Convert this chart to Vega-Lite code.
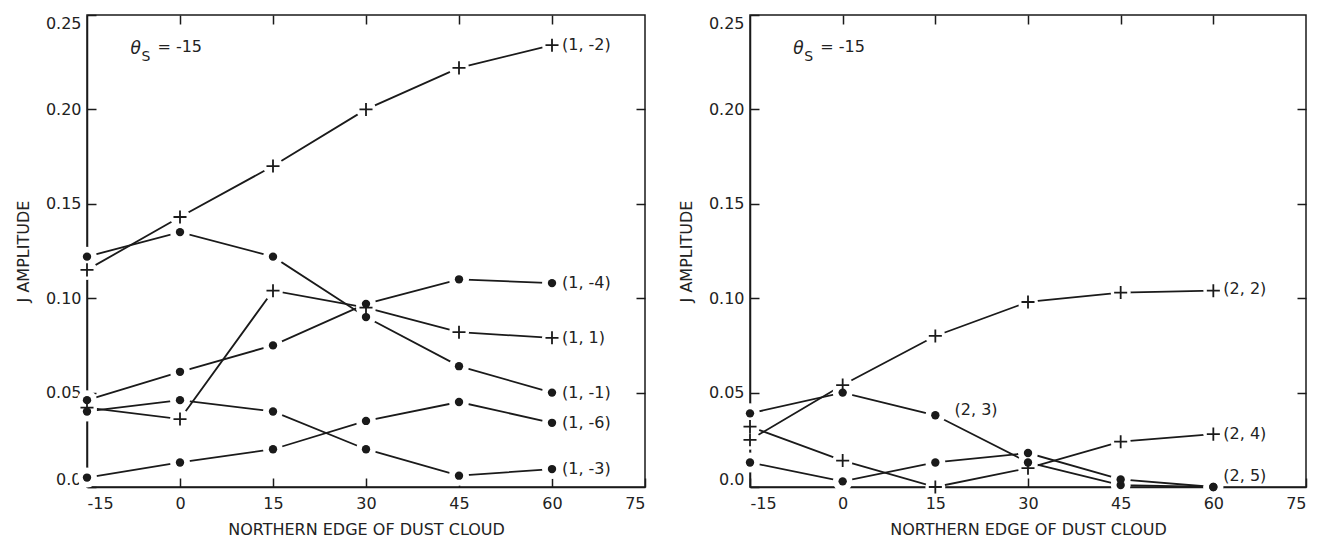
{
  "$schema": "https://vega.github.io/schema/vega-lite/v6.json",
  "padding": {"left": 14, "top": 13, "right": 5, "bottom": 3},
  "spacing": 30,
  "background": "white",
  "config": {
    "view": {"stroke": "#1a1a1a", "strokeWidth": 1.5},
    "font": "DejaVu Sans",
    "axis": {
      "labelFont": "DejaVu Sans", "titleFont": "DejaVu Sans",
      "labelFontSize": 16, "titleFontSize": 16, "titleFontWeight": "normal",
      "labelColor": "#222", "titleColor": "#222",
      "tickColor": "#1a1a1a", "tickWidth": 1.5, "domainColor": "#1a1a1a", "domainWidth": 1.5,
      "grid": false, "zindex": 1
    },
    "text": {"font": "DejaVu Sans", "color": "#222"}
  },
  "datasets": {
    "p1": [
      {"series": "(1,-2)", "m": "plus", "x": -15, "y": 0.115},
      {"series": "(1,-2)", "m": "plus", "x": 0, "y": 0.143},
      {"series": "(1,-2)", "m": "plus", "x": 15, "y": 0.170},
      {"series": "(1,-2)", "m": "plus", "x": 30, "y": 0.200},
      {"series": "(1,-2)", "m": "plus", "x": 45, "y": 0.222},
      {"series": "(1,-2)", "m": "plus", "x": 60, "y": 0.234},
      {"series": "(1,-4)", "m": "dot", "x": -15, "y": 0.046},
      {"series": "(1,-4)", "m": "dot", "x": 0, "y": 0.061},
      {"series": "(1,-4)", "m": "dot", "x": 15, "y": 0.075},
      {"series": "(1,-4)", "m": "dot", "x": 30, "y": 0.097},
      {"series": "(1,-4)", "m": "dot", "x": 45, "y": 0.110},
      {"series": "(1,-4)", "m": "dot", "x": 60, "y": 0.108},
      {"series": "(1,1)", "m": "plus", "x": -15, "y": 0.042},
      {"series": "(1,1)", "m": "plus", "x": 0, "y": 0.036},
      {"series": "(1,1)", "m": "plus", "x": 15, "y": 0.104},
      {"series": "(1,1)", "m": "plus", "x": 30, "y": 0.095},
      {"series": "(1,1)", "m": "plus", "x": 45, "y": 0.082},
      {"series": "(1,1)", "m": "plus", "x": 60, "y": 0.079},
      {"series": "(1,-1)", "m": "dot", "x": -15, "y": 0.122},
      {"series": "(1,-1)", "m": "dot", "x": 0, "y": 0.135},
      {"series": "(1,-1)", "m": "dot", "x": 15, "y": 0.122},
      {"series": "(1,-1)", "m": "dot", "x": 30, "y": 0.090},
      {"series": "(1,-1)", "m": "dot", "x": 45, "y": 0.064},
      {"series": "(1,-1)", "m": "dot", "x": 60, "y": 0.050},
      {"series": "(1,-6)", "m": "dot", "x": -15, "y": 0.005},
      {"series": "(1,-6)", "m": "dot", "x": 0, "y": 0.013},
      {"series": "(1,-6)", "m": "dot", "x": 15, "y": 0.020},
      {"series": "(1,-6)", "m": "dot", "x": 30, "y": 0.035},
      {"series": "(1,-6)", "m": "dot", "x": 45, "y": 0.045},
      {"series": "(1,-6)", "m": "dot", "x": 60, "y": 0.034},
      {"series": "(1,-3)", "m": "dot", "x": -15, "y": 0.040},
      {"series": "(1,-3)", "m": "dot", "x": 0, "y": 0.046},
      {"series": "(1,-3)", "m": "dot", "x": 15, "y": 0.040},
      {"series": "(1,-3)", "m": "dot", "x": 30, "y": 0.020},
      {"series": "(1,-3)", "m": "dot", "x": 45, "y": 0.006},
      {"series": "(1,-3)", "m": "dot", "x": 60, "y": 0.0095}
    ],
    "p2": [
      {"series": "(2,2)", "m": "plus", "x": -15, "y": 0.025},
      {"series": "(2,2)", "m": "plus", "x": 0, "y": 0.054},
      {"series": "(2,2)", "m": "plus", "x": 15, "y": 0.080},
      {"series": "(2,2)", "m": "plus", "x": 30, "y": 0.098},
      {"series": "(2,2)", "m": "plus", "x": 45, "y": 0.103},
      {"series": "(2,2)", "m": "plus", "x": 60, "y": 0.104},
      {"series": "(2,3)", "m": "dot", "x": -15, "y": 0.039},
      {"series": "(2,3)", "m": "dot", "x": 0, "y": 0.050},
      {"series": "(2,3)", "m": "dot", "x": 15, "y": 0.038},
      {"series": "(2,3)", "m": "dot", "x": 30, "y": 0.013},
      {"series": "(2,3)", "m": "dot", "x": 45, "y": 0.001},
      {"series": "(2,3)", "m": "dot", "x": 60, "y": 0.000},
      {"series": "(2,4)", "m": "plus", "x": -15, "y": 0.032},
      {"series": "(2,4)", "m": "plus", "x": 0, "y": 0.014},
      {"series": "(2,4)", "m": "plus", "x": 15, "y": 0.000},
      {"series": "(2,4)", "m": "plus", "x": 30, "y": 0.010},
      {"series": "(2,4)", "m": "plus", "x": 45, "y": 0.024},
      {"series": "(2,4)", "m": "plus", "x": 60, "y": 0.028},
      {"series": "(2,5)", "m": "dot", "x": -15, "y": 0.013},
      {"series": "(2,5)", "m": "dot", "x": 0, "y": 0.003},
      {"series": "(2,5)", "m": "dot", "x": 15, "y": 0.013},
      {"series": "(2,5)", "m": "dot", "x": 30, "y": 0.018},
      {"series": "(2,5)", "m": "dot", "x": 45, "y": 0.004},
      {"series": "(2,5)", "m": "dot", "x": 60, "y": 0.000}
    ],
    "l1": [
      {"label": "(1, -2)", "x": 60, "y": 0.234},
      {"label": "(1, -4)", "x": 60, "y": 0.108},
      {"label": "(1, 1)", "x": 60, "y": 0.079},
      {"label": "(1, -1)", "x": 60, "y": 0.050},
      {"label": "(1, -6)", "x": 60, "y": 0.034},
      {"label": "(1, -3)", "x": 60, "y": 0.0095}
    ],
    "l2": [
      {"label": "(2, 2)", "x": 60, "y": 0.105},
      {"label": "(2, 3)", "x": 16.5, "y": 0.041},
      {"label": "(2, 4)", "x": 60, "y": 0.028},
      {"label": "(2, 5)", "x": 60, "y": 0.006}
    ],
    "th": [{"x": -8, "y": 0.232}]
  },
  "hconcat": [
    {
      "width": 558, "height": 472,
      "resolve": {"axis": {"x": "independent", "y": "independent"}},
      "layer": [
        {
          "data": {"name": "p1"},
          "mark": {"type": "line", "color": "#1a1a1a", "strokeWidth": 1.8},
          "encoding": {
            "x": {"field": "x", "type": "quantitative", "scale": {"domain": [-15, 75], "nice": false, "zero": false},
              "axis": {"orient": "bottom", "values": [-15, 0, 15, 30, 45, 60, 75], "labelExpr": "'' + datum.value", "tickSize": -9, "labelPadding": 17, "labelFlush": true, "title": "NORTHERN EDGE OF DUST CLOUD", "titlePadding": 10}},
            "y": {"field": "y", "type": "quantitative", "scale": {"domain": [0, 0.25], "nice": false, "zero": true},
              "axis": {"orient": "left", "values": [0, 0.05, 0.1, 0.15, 0.2, 0.25], "labelExpr": "datum.value == 0 ? '0.0' : format(datum.value, '.2f')", "tickSize": -9, "labelPadding": 15, "labelFlush": true, "title": "J AMPLITUDE", "titlePadding": 14}},
            "detail": {"field": "series"}
          }
        },
        {
          "data": {"name": "p1"},
          "mark": {"type": "point", "shape": "circle", "size": 400, "filled": true, "fill": "white", "stroke": null, "opacity": 1, "fillOpacity": 1},
          "encoding": {
            "x": {"field": "x", "type": "quantitative", "axis": {"orient": "top", "values": [0, 15, 30, 45, 60], "labels": false, "tickSize": -9, "domain": false, "title": null}},
            "y": {"field": "y", "type": "quantitative", "axis": {"orient": "right", "values": [0.05, 0.1, 0.15, 0.2], "labels": false, "tickSize": -9, "domain": false, "title": null}}
          }
        },
        {
          "data": {"name": "p1"},
          "transform": [{"filter": "datum.m == 'plus'"}],
          "mark": {"type": "point", "shape": "M-1,0H1M0,-1V1", "size": 170, "filled": false, "stroke": "#1a1a1a", "strokeWidth": 1.8, "opacity": 1},
          "encoding": {
            "x": {"field": "x", "type": "quantitative", "axis": null},
            "y": {"field": "y", "type": "quantitative", "axis": null}
          }
        },
        {
          "data": {"name": "p1"},
          "transform": [{"filter": "datum.m == 'dot'"}],
          "mark": {"type": "circle", "size": 70, "color": "#1a1a1a", "opacity": 1},
          "encoding": {
            "x": {"field": "x", "type": "quantitative", "axis": null},
            "y": {"field": "y", "type": "quantitative", "axis": null}
          }
        },
        {
          "data": {"name": "l1"},
          "mark": {"type": "text", "align": "left", "baseline": "middle", "dx": 10, "fontSize": 16},
          "encoding": {
            "x": {"field": "x", "type": "quantitative", "axis": null},
            "y": {"field": "y", "type": "quantitative", "axis": null},
            "text": {"field": "label"}
          }
        },
        {
          "data": {"name": "th"},
          "mark": {"type": "text", "text": "θ", "fontStyle": "italic", "align": "left", "baseline": "middle", "fontSize": 17},
          "encoding": {
            "x": {"field": "x", "type": "quantitative", "axis": null},
            "y": {"field": "y", "type": "quantitative", "axis": null}
          }
        },
        {
          "data": {"name": "th"},
          "mark": {"type": "text", "text": "S", "align": "left", "baseline": "middle", "fontSize": 14, "dx": 11, "dy": 8},
          "encoding": {
            "x": {"field": "x", "type": "quantitative", "axis": null},
            "y": {"field": "y", "type": "quantitative", "axis": null}
          }
        },
        {
          "data": {"name": "th"},
          "mark": {"type": "text", "text": "= -15", "align": "left", "baseline": "middle", "fontSize": 16, "dx": 27, "dy": -2},
          "encoding": {
            "x": {"field": "x", "type": "quantitative", "axis": null},
            "y": {"field": "y", "type": "quantitative", "axis": null}
          }
        }
      ]
    },
    {
      "width": 556, "height": 472,
      "resolve": {"axis": {"x": "independent", "y": "independent"}},
      "layer": [
        {
          "data": {"name": "p2"},
          "mark": {"type": "line", "color": "#1a1a1a", "strokeWidth": 1.8},
          "encoding": {
            "x": {"field": "x", "type": "quantitative", "scale": {"domain": [-15, 75], "nice": false, "zero": false},
              "axis": {"orient": "bottom", "values": [-15, 0, 15, 30, 45, 60, 75], "labelExpr": "'' + datum.value", "tickSize": -9, "labelPadding": 17, "labelFlush": true, "title": "NORTHERN EDGE OF DUST CLOUD", "titlePadding": 10}},
            "y": {"field": "y", "type": "quantitative", "scale": {"domain": [0, 0.25], "nice": false, "zero": true},
              "axis": {"orient": "left", "values": [0, 0.05, 0.1, 0.15, 0.2, 0.25], "labelExpr": "datum.value == 0 ? '0.0' : format(datum.value, '.2f')", "tickSize": -9, "labelPadding": 15, "labelFlush": true, "title": "J AMPLITUDE", "titlePadding": 14}},
            "detail": {"field": "series"}
          }
        },
        {
          "data": {"name": "p2"},
          "mark": {"type": "point", "shape": "circle", "size": 400, "filled": true, "fill": "white", "stroke": null, "opacity": 1, "fillOpacity": 1},
          "encoding": {
            "x": {"field": "x", "type": "quantitative", "axis": {"orient": "top", "values": [0, 15, 30, 45, 60], "labels": false, "tickSize": -9, "domain": false, "title": null}},
            "y": {"field": "y", "type": "quantitative", "axis": {"orient": "right", "values": [0.05, 0.1, 0.15, 0.2], "labels": false, "tickSize": -9, "domain": false, "title": null}}
          }
        },
        {
          "data": {"name": "p2"},
          "transform": [{"filter": "datum.m == 'plus'"}],
          "mark": {"type": "point", "shape": "M-1,0H1M0,-1V1", "size": 170, "filled": false, "stroke": "#1a1a1a", "strokeWidth": 1.8, "opacity": 1},
          "encoding": {
            "x": {"field": "x", "type": "quantitative", "axis": null},
            "y": {"field": "y", "type": "quantitative", "axis": null}
          }
        },
        {
          "data": {"name": "p2"},
          "transform": [{"filter": "datum.m == 'dot'"}],
          "mark": {"type": "circle", "size": 70, "color": "#1a1a1a", "opacity": 1},
          "encoding": {
            "x": {"field": "x", "type": "quantitative", "axis": null},
            "y": {"field": "y", "type": "quantitative", "axis": null}
          }
        },
        {
          "data": {"name": "l2"},
          "mark": {"type": "text", "align": "left", "baseline": "middle", "dx": 10, "fontSize": 16},
          "encoding": {
            "x": {"field": "x", "type": "quantitative", "axis": null},
            "y": {"field": "y", "type": "quantitative", "axis": null},
            "text": {"field": "label"}
          }
        },
        {
          "data": {"name": "th"},
          "mark": {"type": "text", "text": "θ", "fontStyle": "italic", "align": "left", "baseline": "middle", "fontSize": 17},
          "encoding": {
            "x": {"field": "x", "type": "quantitative", "axis": null},
            "y": {"field": "y", "type": "quantitative", "axis": null}
          }
        },
        {
          "data": {"name": "th"},
          "mark": {"type": "text", "text": "S", "align": "left", "baseline": "middle", "fontSize": 14, "dx": 11, "dy": 8},
          "encoding": {
            "x": {"field": "x", "type": "quantitative", "axis": null},
            "y": {"field": "y", "type": "quantitative", "axis": null}
          }
        },
        {
          "data": {"name": "th"},
          "mark": {"type": "text", "text": "= -15", "align": "left", "baseline": "middle", "fontSize": 16, "dx": 27, "dy": -2},
          "encoding": {
            "x": {"field": "x", "type": "quantitative", "axis": null},
            "y": {"field": "y", "type": "quantitative", "axis": null}
          }
        }
      ]
    }
  ]
}
